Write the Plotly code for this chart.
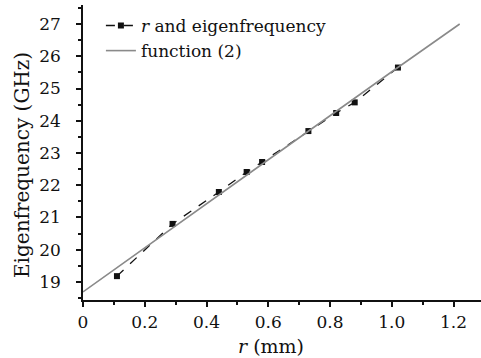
import plotly.graph_objects as go

# Measured points (r in mm, eigenfrequency in GHz)
r_meas = [0.11, 0.29, 0.44, 0.53, 0.58, 0.73, 0.82, 0.88, 1.02]
f_meas = [19.18, 20.80, 21.79, 22.41, 22.72, 23.68, 24.24, 24.57, 25.65]

# Fitted function (2)
r_fit = [0.0, 0.2, 0.6, 1.0, 1.22]
f_fit = [18.69, 20.05, 22.79, 25.52, 27.0]

x_ticks = [0, 0.2, 0.4, 0.6, 0.8, 1.0, 1.2]
x_tick_labels = ["0", "0.2", "0.4", "0.6", "0.8", "1.0", "1.2"]
y_ticks = [19, 20, 21, 22, 23, 24, 25, 26, 27]

x_title = "<i>r</i> (mm)"
y_title = "Eigenfrequency (GHz)"

FONT = "DejaVu Serif"
INK = "#111111"

fig = go.Figure()
fig.add_trace(go.Scatter(
    x=r_meas, y=f_meas, mode="lines+markers",
    name="<i>r</i> and eigenfrequency",
    line=dict(color=INK, width=1.3, dash="dash"),
    marker=dict(symbol="square", size=6, color=INK),
))
fig.add_trace(go.Scatter(
    x=r_fit, y=f_fit, mode="lines",
    name="function (2)",
    line=dict(color="#8a8a8a", width=1.6),
))

fig.update_layout(
    width=481, height=358,
    margin=dict(l=83, r=0, t=5, b=58, autoexpand=False),
    paper_bgcolor="white", plot_bgcolor="white",
    font=dict(family=FONT, size=17, color=INK),
    showlegend=True,
    legend=dict(
        x=0.045, y=0.99, xanchor="left", yanchor="top",
        bgcolor="rgba(0,0,0,0)", font=dict(size=17, family=FONT),
        tracegroupgap=0, itemwidth=30,
    ),
    xaxis=dict(
        range=[0, 1.289], tickvals=x_ticks, ticktext=x_tick_labels,
        automargin=False,
        showgrid=False, zeroline=False, showline=True,
        linecolor=INK, linewidth=1.5,
        ticks="outside", ticklen=5, tickwidth=1.5, tickcolor=INK,
        ticklabelstandoff=1,
        minor=dict(dtick=0.1, ticks="outside", ticklen=3, tickcolor=INK, showgrid=False),
        tickfont=dict(size=17, family=FONT),
    ),
    yaxis=dict(
        range=[18.44, 27.59], tickvals=y_ticks,
        automargin=False,
        showgrid=False, zeroline=False, showline=True,
        linecolor=INK, linewidth=1.5,
        ticks="outside", ticklen=5, tickwidth=1.5, tickcolor=INK,
        ticklabelstandoff=12,
        minor=dict(dtick=0.5, tick0=19, ticks="outside", ticklen=3, tickcolor=INK, showgrid=False),
        tickfont=dict(size=17, family=FONT),
    ),
    annotations=[
        dict(text=x_title, xref="paper", yref="paper", x=0.472, y=-0.155,
             xanchor="center", yanchor="middle", showarrow=False,
             font=dict(size=19, family=FONT, color=INK)),
        dict(text=y_title, xref="paper", yref="paper", x=-0.153, y=0.458,
             xanchor="center", yanchor="middle", showarrow=False, textangle=-90,
             font=dict(size=20, family=FONT, color=INK)),
    ],
)

fig.write_html(
    "out.html",
    config={"displayModeBar": False},
    post_script="document.body.style.margin='0';document.body.style.padding='0';",
)
